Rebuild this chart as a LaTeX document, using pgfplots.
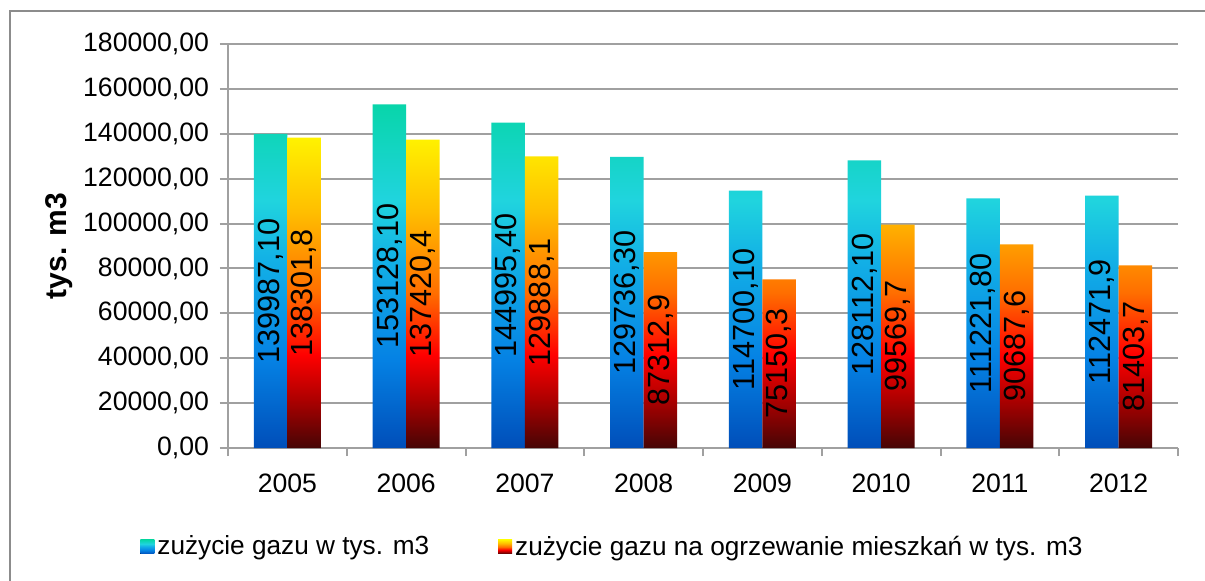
\documentclass[border=0pt]{standalone}
\usepackage{pgfplots}
\pgfplotsset{compat=1.18}
\usepackage{pgfplotstable}
\usepackage{fontspec}
\setmainfont{Liberation Sans}

\definecolor{gridgray}{RGB}{160,160,160}
\definecolor{framegray}{RGB}{140,140,140}
\definecolor{bA}{RGB}{0,78,185}
\definecolor{bB}{RGB}{5,130,228}
\definecolor{bC}{RGB}{18,175,230}
\definecolor{bD}{RGB}{32,212,222}
\definecolor{bE}{RGB}{8,213,170}
\definecolor{rA}{RGB}{70,5,5}
\definecolor{rB}{RGB}{175,0,0}
\definecolor{rC}{RGB}{255,0,0}
\definecolor{rD}{RGB}{255,110,0}
\definecolor{rE}{RGB}{255,190,0}
\definecolor{rF}{RGB}{255,242,0}

\pgfdeclareverticalshading{blueshade}{100bp}{%
  color(0bp)=(bA); color(25bp)=(bA); color(38bp)=(bB); color(52bp)=(bC);
  color(61bp)=(bD); color(75bp)=(bE); color(100bp)=(bE)}
\pgfdeclareverticalshading{redshade}{100bp}{%
  color(0bp)=(rA); color(25bp)=(rA); color(33bp)=(rB); color(40bp)=(rC);
  color(50bp)=(rD); color(63bp)=(rE); color(75bp)=(rF); color(100bp)=(rF)}

\pgfplotstableread{
x y label
0 139987.10 139987,10
1 153128.10 153128,10
2 144995.40 144995,40
3 129736.30 129736,30
4 114700.10 114700,10
5 128112.10 128112,10
6 111221.80 111221,80
7 112471.90 112471,9
}\gasA
\pgfplotstableread{
x y label
0 138301.8 138301,8
1 137420.4 137420,4
2 129888.1 129888,1
3 87312.9 87312,9
4 75150.3 75150,3
5 99569.7 99569,7
6 90687.6 90687,6
7 81403.7 81403,7
}\gasB

\begin{document}
\begin{tikzpicture}
\path[use as bounding box] (-114pt,-66pt) rectangle (488.5pt,224pt);
\fill[white] (-114pt,-66pt) rectangle (488.5pt,224pt);
\draw[framegray, line width=1pt] (-109pt,-80pt) -- (-109pt,218.5pt) -- (500pt,218.5pt);
\begin{axis}[
  at={(0,0)}, anchor=south west,
  scale only axis, width=475pt, height=202pt,
  ybar=0pt, bar width=16.75pt,
  xmin=-0.5, xmax=7.5, ymin=0, ymax=180000,
  scaled y ticks=false,
  axis x line*=bottom, axis y line*=left,
  axis line style={gridgray, line width=1pt},
  tick align=outside, major tick length=4pt,
  tick style={gridgray, line width=1pt},
  ymajorgrids, grid style={gridgray, line width=1pt},
  ytick={0,20000,40000,60000,80000,100000,120000,140000,160000,180000},
  yticklabels={{0,00},{20000,00},{40000,00},{60000,00},{80000,00},{100000,00},{120000,00},{140000,00},{160000,00},{180000,00}},
  yticklabel style={font=\fontsize{13.3}{15}\selectfont, anchor=east, xshift=-2pt},
  xtick={-0.5,0.5,1.5,2.5,3.5,4.5,5.5,6.5,7.5},
  xticklabels={},
  extra x ticks={0,1,2,3,4,5,6,7},
  extra x tick labels={2005,2006,2007,2008,2009,2010,2011,2012},
  extra x tick style={major tick length=0pt, xticklabel style={font=\fontsize{13.3}{15}\selectfont, yshift=-9.3pt}},
  every axis y label/.style={at={(axis description cs:-0.1779,0.5)}, rotate=90, anchor=center, font=\fontsize{15}{17}\bfseries},
  ylabel={tys. m3},
  nodes near coords,
  point meta=explicit symbolic,
  visualization depends on={y \as \rawy},
  nodes near coords style={shift={(axis direction cs:0,-\rawy/2)}, rotate=90, anchor=center, font=\fontsize{15.3}{17}\selectfont, text=black, inner sep=0pt},
  legend columns=2,
  legend style={at={(-0.0926,-0.245)}, anchor=west, draw=none, fill=none, inner sep=0pt,
    font=\fontsize{13.1}{15}\selectfont, nodes={inner sep=1.5pt},
    /tikz/every even column/.append style={column sep=33pt}},
  legend image code/.code={\fill[#1] (0pt,-3.5pt) rectangle (7pt,3.5pt);},
]
\addplot[draw=none, shading=blueshade] table[x=x, y=y, meta=label] {\gasA};
\addplot[draw=none, shading=redshade] table[x=x, y=y, meta=label] {\gasB};
\legend{zużycie gazu w tys. m3, zużycie gazu na ogrzewanie mieszkań w tys. m3}
\end{axis}
\end{tikzpicture}
\end{document}
